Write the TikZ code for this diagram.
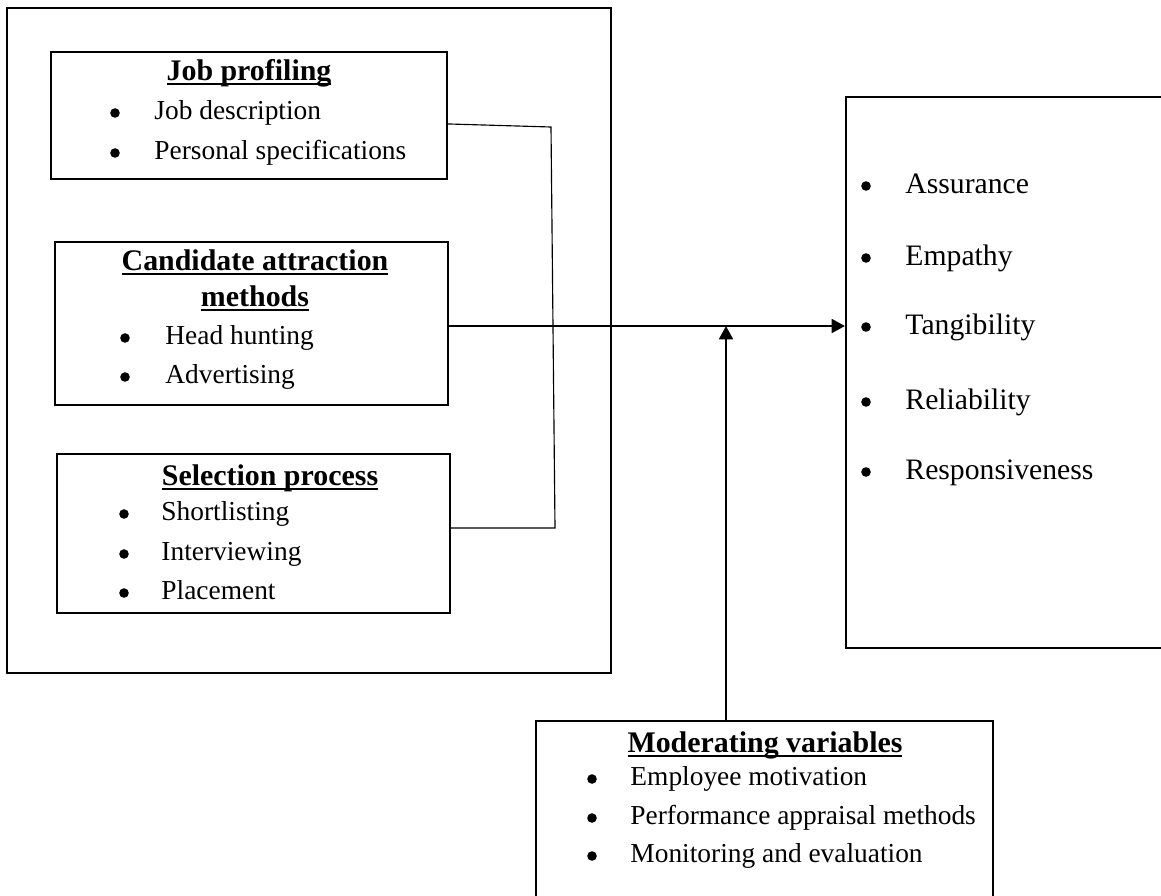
\documentclass[tikz,border=0pt]{standalone}
\usepackage{fontspec}
\setmainfont{Liberation Serif}
\usetikzlibrary{arrows.meta,fit}

% bold, underlined box heading
\newcommand{\boxhead}[1]{\setbox0\hbox{\fontsize{13.1}{15}\selectfont\bfseries #1}\rlap{\rule[-2.3pt]{\wd0}{1.2pt}}\box0}

\tikzset{
  box/.style={draw, line width=0.9pt, inner sep=0pt},
  head/.style={anchor=base, inner sep=0pt},
  item/.style={anchor=base west, inner sep=0pt, font=\fontsize{12}{14}\selectfont},
  bigitem/.style={anchor=base west, inner sep=0pt, font=\fontsize{13}{15}\selectfont},
  dot/.style={circle, fill, inner sep=0pt, minimum size=4.2pt},
  link/.style={line width=0.5pt},
  flow/.style={line width=1.1pt, -{Triangle[length=5.8pt,width=6pt]}},
}

\begin{document}
\begin{tikzpicture}[x=0.438pt, y=-0.438pt]
\path[use as bounding box] (0,0) rectangle (1161,895);
\clip (0,0) rectangle (1161,895);

% independent variables
\node[box, fit={(7,8) (611,673)}] (indep) {};

\node[box, fit={(51,52) (447,179)}] (jobbox) {};
\node[head] (jobhead) at (249,80) {\boxhead{Job profiling}};
\node[dot] (jobb1) at (115,113) {};
\node[item] (job1) at (154,119) {Job description};
\node[dot] (jobb2) at (115,153) {};
\node[item] (job2) at (154,159) {Personal specifications};

\node[box, fit={(55,242) (448,405)}] (candbox) {};
\node[head] (candhead1) at (255,270) {\boxhead{Candidate attraction}};
\node[head] (candhead2) at (255,306) {\boxhead{methods}};
\node[dot] (candb1) at (125,338) {};
\node[item] (cand1) at (165,344) {Head hunting};
\node[dot] (candb2) at (125,377) {};
\node[item] (cand2) at (165,383) {Advertising};

\node[box, fit={(57,454) (450,613)}] (selbox) {};
\node[head] (selhead) at (270,485) {\boxhead{Selection process}};
\node[dot] (selb1) at (124,514) {};
\node[item] (sel1) at (161,520) {Shortlisting};
\node[dot] (selb2) at (124,554) {};
\node[item] (sel2) at (161,560) {Interviewing};
\node[dot] (selb3) at (124,593) {};
\node[item] (sel3) at (161,599) {Placement};

% dependent variable
\node[box, fit={(846,97) (1200,648)}] (outbox) {};
\node[dot] (outb1) at (866,186) {};
\node[bigitem] (out1) at (905,193) {Assurance};
\node[dot] (outb2) at (866,258) {};
\node[bigitem] (out2) at (905,265) {Empathy};
\node[dot] (outb3) at (866,327) {};
\node[bigitem] (out3) at (905,334) {Tangibility};
\node[dot] (outb4) at (866,402) {};
\node[bigitem] (out4) at (905,409) {Reliability};
\node[dot] (outb5) at (866,472) {};
\node[bigitem] (out5) at (905,479) {Responsiveness};

% moderating variables
\node[box, fit={(536,721) (993,960)}] (modbox) {};
\node[head] (modhead) at (765,752) {\boxhead{Moderating variables}};
\node[dot] (modb1) at (592,779) {};
\node[item] (mod1) at (630,785) {Employee motivation};
\node[dot] (modb2) at (592,818) {};
\node[item] (mod2) at (630,824) {Performance appraisal methods};
\node[dot] (modb3) at (592,856) {};
\node[item] (mod3) at (630,862) {Monitoring and evaluation};

% connectors
\coordinate (jobturn) at (551,127);
\coordinate (selturn) at (555,528);
\coordinate (meet) at (726,326);
\draw[link] ([yshift=-3.7pt]jobbox.east) -- (jobturn) -- (selturn) -- (selbox.east |- selturn);
\draw[flow] (candbox.east |- meet) -- (outbox.west |- meet);
\draw[flow] (modbox.north -| meet) -- (meet);
\end{tikzpicture}
\end{document}
